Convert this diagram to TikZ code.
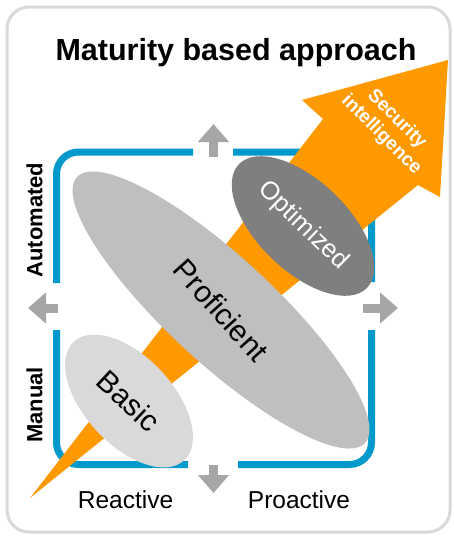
\documentclass[tikz,border=0pt]{standalone}
\usepackage{fontspec}
\setmainfont{Liberation Sans}
\usetikzlibrary{shapes.geometric,arrows.meta}
\definecolor{frameblue}{RGB}{0,153,204}
\definecolor{groworange}{RGB}{255,153,0}
\definecolor{axisgray}{RGB}{166,166,166}
\definecolor{bordergray}{RGB}{217,217,217}
\definecolor{basicgray}{RGB}{217,217,217}
\definecolor{profgray}{RGB}{191,191,191}
\definecolor{optgray}{RGB}{127,127,127}
\newcommand{\fsz}[1]{\fontsize{#1}{1.2\dimexpr#1pt\relax}\selectfont}

\begin{document}
\begin{tikzpicture}[
            x=1pt, y=-1pt,
            quad/.style={draw=frameblue, line width=7pt, rounded corners=22pt},
            axisarrow/.style={draw=axisgray, line width=9pt, -{Triangle[length=18pt,width=30pt]}},
            stage/.style={ellipse, inner sep=0pt},
            stagetext/.style={inner sep=0pt, font=\fsz{28}},
            sidelabel/.style={inner sep=0pt, rotate=90, font=\bfseries\fsz{22}},
            bottomlabel/.style={inner sep=0pt, anchor=base, font=\fsz{24.5}}
        ]
        \useasboundingbox (0,0) rectangle (454,539);

        % Outer frame and title
        \draw[bordergray, line width=3pt, rounded corners=22pt] (7,7) rectangle (450,532);
        \node[anchor=base, inner sep=0pt, font=\bfseries\fsz{30.5}] (title) at (236,60) {Maturity based approach};

        % Blue quadrant frame
        \draw[quad] (56.5,283) |- (193,152);
        \draw[quad] (233,152) -| (371.5,282);
        \draw[quad] (371.5,330) |- (238,464.5);
        \draw[quad] (188,464.5) -| (56.5,330);

        % Gray axis arrows
        \coordinate (upS) at (213.5,157);   \coordinate (upE) at (213.5,124);
        \coordinate (downS) at (213.5,465); \coordinate (downE) at (213.5,493);
        \coordinate (leftS) at (58,308);    \coordinate (leftE) at (28,308);
        \coordinate (rightS) at (363,308);  \coordinate (rightE) at (398,308);
        \draw[axisarrow] (upS) -- (upE);
        \draw[axisarrow] (downS) -- (downE);
        \draw[axisarrow] (leftS) -- (leftE);
        \draw[axisarrow] (rightS) -- (rightE);

        % Orange growth arrow
        \fill[groworange] (30,498) -- (323,119) -- (302,100) -- (448,60)
            -- (440,197) -- (418,185) -- cycle;
        \node[inner sep=0pt, rotate=-45, text=white, align=center,
              font=\bfseries\fontsize{19}{22}\selectfont] (secint) at (389,127) {Security\\intelligence};

        % Stages
        \node[stage, fill=profgray, minimum width=392pt, minimum height=106pt, rotate=-42.7] (prof) at (221,310) {};
        \node[stage, fill=optgray, minimum width=178pt, minimum height=90pt, rotate=-44] (opt) at (303,226) {};
        \node[stage, fill=basicgray, minimum width=162pt, minimum height=88pt, rotate=-47] (basic) at (129,401) {};
        \node[stagetext, rotate=-48, font=\fsz{30}] (proftext) at (prof.center) {Proficient};
        \node[stagetext, rotate=-44, text=white, font=\fsz{25.5}] (opttext) at (opt.center) {Optimized};
        \node[stagetext, rotate=-43, font=\fsz{30}] (basictext) at (basic.center) {Basic};

        % Axis labels
        \node[sidelabel] (auto) at (34.5,220) {Automated};
        \node[sidelabel] (manual) at (34.5,405) {Manual};
        \node[bottomlabel] (reactive) at (125.5,508) {Reactive};
        \node[bottomlabel] (proactive) at (299,508) {Proactive};

        \end{tikzpicture}
\end{document}
